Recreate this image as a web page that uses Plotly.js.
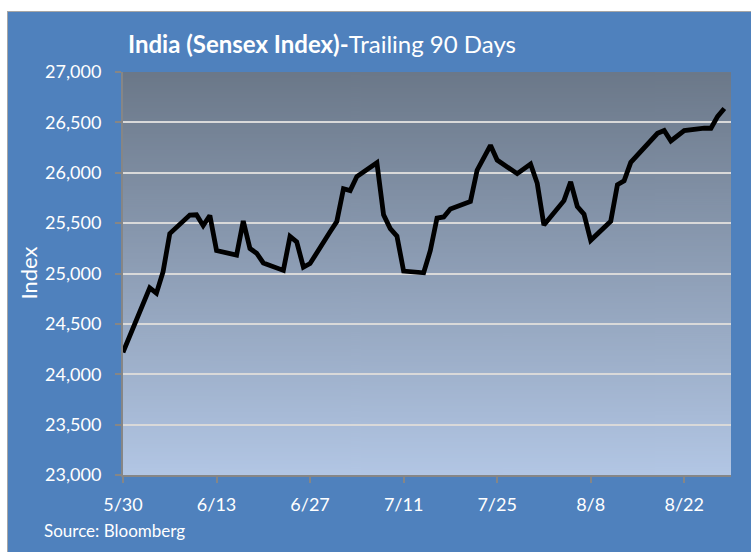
<!DOCTYPE html>
<html>
<head>
<meta charset="utf-8">
<script src="https://cdn.plot.ly/plotly-3.0.1.min.js"></script>
<style>
  html, body { margin: 0; padding: 0; background: #ffffff; width: 751px; height: 552px; overflow: hidden; }
  #chart { position: absolute; left: 7px; top: 11px; width: 743px; height: 540px; border-left: 1px solid #a6a6a6; border-top: 1px solid #a6a6a6; }
</style>
</head>
<body>
<div id="chart"></div>
<script>
const dates = ['2014-05-30','2014-06-02','2014-06-03','2014-06-04','2014-06-05','2014-06-06','2014-06-09','2014-06-10','2014-06-11','2014-06-12','2014-06-13','2014-06-16','2014-06-17','2014-06-18','2014-06-19','2014-06-20','2014-06-23','2014-06-24','2014-06-25','2014-06-26','2014-06-27','2014-06-30','2014-07-01','2014-07-02','2014-07-03','2014-07-04','2014-07-07','2014-07-08','2014-07-09','2014-07-10','2014-07-11','2014-07-14','2014-07-15','2014-07-16','2014-07-17','2014-07-18','2014-07-21','2014-07-22','2014-07-23','2014-07-24','2014-07-25','2014-07-28','2014-07-30','2014-07-31','2014-08-01','2014-08-04','2014-08-05','2014-08-06','2014-08-07','2014-08-08','2014-08-11','2014-08-12','2014-08-13','2014-08-14','2014-08-18','2014-08-19','2014-08-20','2014-08-21','2014-08-22','2014-08-25','2014-08-26','2014-08-27','2014-08-28'];
const sensex = [24217,24685,24858,24805,25019,25396,25580,25583,25475,25576,25228,25182,25521,25248,25201,25105,25031,25368,25314,25063,25099,25414,25516,25841,25823,25962,26100,25582,25445,25372,25024,25007,25228,25550,25561,25641,25715,26025,26147,26272,26126,25991,26087,25895,25481,25723,25909,25665,25589,25329,25519,25881,25919,26103,26391,26420,26315,26360,26419,26443,26442,26560,26638];
const yTickVals = [23000,23500,24000,24500,25000,25500,26000,26500,27000];
const xRange = ['2014-05-30','2014-08-29'];
const titleBold = 'India (Sensex Index)-';
const titleRest = 'Trailing 90 Days';
const yLabel = 'Index';
const sourceText = 'Source: Bloomberg';

// vertical gradient for plot background
const cv = document.createElement('canvas');
cv.width = 4; cv.height = 400;
const ctx = cv.getContext('2d');
const g = ctx.createLinearGradient(0, 0, 0, 400);
g.addColorStop(0, '#6b7889');
g.addColorStop(1, '#b2c6e4');
ctx.fillStyle = g;
ctx.fillRect(0, 0, 4, 400);
const gradURL = cv.toDataURL('image/png');

const font = 'Lato, "Open Sans", sans-serif';

const trace = {
  x: dates, y: sensex, type: 'scatter', mode: 'lines',
  line: { color: '#000000', width: 4.8 },
  hoverinfo: 'skip'
};

const layout = {
  width: 743, height: 540,
  paper_bgcolor: '#4f81bd',
  plot_bgcolor: '#8fa3bd',
  margin: { l: 115, r: 20, t: 60, b: 77 },
  showlegend: false,
  font: { family: font, color: '#ffffff', size: 18 },
  title: {
    text: '<b>' + titleBold + '</b>' + titleRest,
    font: { family: font, size: 24, color: '#ffffff' },
    xref: 'container', x: 120/743, xanchor: 'left',
    yref: 'container', y: 1 - 33/540, yanchor: 'middle'
  },
  xaxis: {
    type: 'date', range: xRange,
    tick0: '2014-05-30', dtick: 14*86400000,
    tickformat: '%-m/%-d',
    showgrid: false, zeroline: false,
    showline: true, linecolor: '#868686', linewidth: 2,
    ticks: 'outside', ticklen: 6, tickwidth: 2, tickcolor: '#868686',
    tickfont: { family: font, size: 18, color: '#ffffff' },
    ticklabelstandoff: 6
  },
  yaxis: {
    range: [23000, 27000], tickvals: yTickVals,
    tickformat: ',d',
    showgrid: true, gridcolor: '#d9d9d9', gridwidth: 2,
    zeroline: false,
    showline: true, linecolor: '#868686', linewidth: 2,
    ticks: 'outside', ticklen: 6, tickwidth: 2, tickcolor: '#868686',
    tickfont: { family: font, size: 18, color: '#ffffff' },
    ticklabelstandoff: 10
  },
  images: [{
    source: gradURL, xref: 'paper', yref: 'paper',
    x: 0, y: 1, sizex: 1, sizey: 1, sizing: 'stretch',
    xanchor: 'left', yanchor: 'top', layer: 'below'
  }],
  annotations: [
    {
      text: yLabel, textangle: -90, showarrow: false,
      xref: 'paper', yref: 'paper',
      x: (20 - 115) / 608, y: 0.5, xanchor: 'center', yanchor: 'middle',
      font: { family: font, size: 22, color: '#ffffff' }
    },
    {
      text: sourceText, showarrow: false,
      xref: 'paper', yref: 'paper',
      x: (34 - 115) / 608, y: (463 - 518) / 403, xanchor: 'left', yanchor: 'middle',
      font: { family: font, size: 17, color: '#ffffff' }
    }
  ]
};

Plotly.newPlot('chart', [trace], layout, { staticPlot: true, displayModeBar: false });
</script>
</body>
</html>
